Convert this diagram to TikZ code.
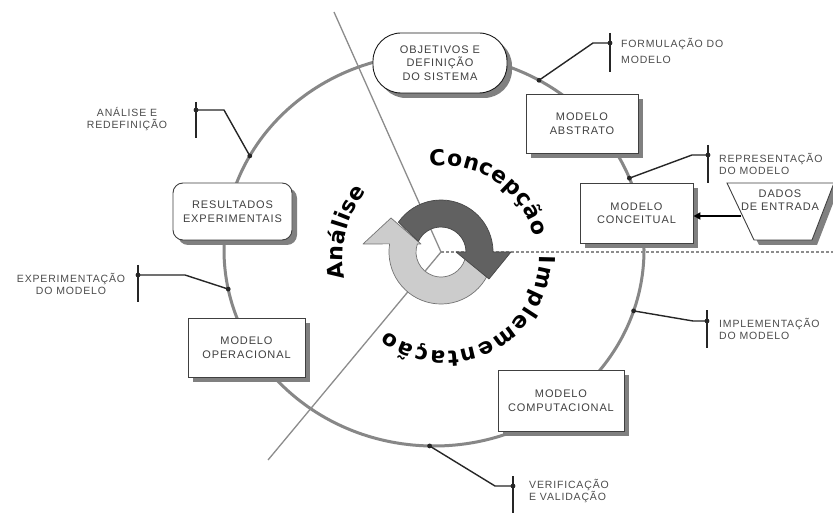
\documentclass[tikz,border=0pt]{standalone}
\usepackage{fontspec}
\setmainfont{Liberation Sans}
\newfontfamily\mbfam{Liberation Sans}[LetterSpace=8]
\newfontfamily\cycfam{DejaVu Sans}
\usetikzlibrary{shadows,calc,arrows.meta,decorations.text}

\newcommand\mbfont{\mbfam\fontsize{11}{13.5}\selectfont}
\newcommand\lblfont{\mbfam\fontsize{10.5}{12}\selectfont}
\newcommand\cycfont{\cycfam\bfseries\fontsize{22}{22}\selectfont}

\tikzset{
  ringline/.style={draw=black!47, line width=3pt},
  axisline/.style={draw=black!45, line width=1.3pt},
  axisdash/.style={draw=black!45, line width=1.5pt, dash pattern=on 3pt off 2pt},
  conn/.style={draw=black!85, line width=1.4pt, line join=round},
  tickline/.style={draw=black!85, line width=1.2pt},
  dotfill/.style={fill=black!85},
  shadowed/.style={drop shadow={shadow xshift=5pt, shadow yshift=-5pt, fill=black!50, opacity=1}},
  boxline/.style={draw=black!75, line width=0.9pt, fill=white},
  modelbox/.style={boxline, shadowed, rectangle, align=center, font=\mbfont, text=black!75, inner sep=0pt},
  pillbox/.style={modelbox, draw=black!90, rounded corners=28pt},
  lbl/.style={font=\lblfont, text=black!70, inner sep=0pt},
  feed/.style={draw=black, line width=2.4pt, -{Triangle[length=7pt,width=7pt]}},
  darkarrow/.style={fill=black!62, draw=black!72, line width=0.7pt, line join=round},
  lightarrow/.style={fill=black!20, draw=black!55, line width=0.7pt, line join=round},
  cyctext/.style={decorate, decoration={text along path, text align={fit to path}, text={|\cycfont|#1}}}
}

\begin{document}
\begin{tikzpicture}[x=1pt,y=1pt]
\useasboundingbox (0,0) rectangle (833,-513);
\fill[white] (0,0) rectangle (833,-513);

% the modelling cycle
\coordinate (ec) at (434,-250);
\draw[ringline] (ec) ellipse[x radius=210, y radius=196];

% phase dividers radiating from the centre
\coordinate (ctr) at (441,-252);
\coordinate (axtop) at (334,-12);
\coordinate (axbot) at (268,-460);
\coordinate (axright) at (833,-252);
\draw[axisline] (ctr) -- (axtop);
\draw[axisline] (ctr) -- (axbot);
\draw[axisdash] (ctr) -- (axright);

% circular arrows in the middle
\begin{scope}[shift={(ctr)}]
  \path[lightarrow] (-10:52) arc[start angle=-10, end angle=-189, radius=52]
     -- (-78,8) -- (-50,34) -- (-20,8) -- (161.3:25)
     arc[start angle=161.3, end angle=350, radius=25] -- cycle;
  \path[darkarrow] (145:52) arc[start angle=145, end angle=0, radius=52]
     -- (70,0) -- (48,-27) -- (15,0) -- (25,0)
     arc[start angle=0, end angle=155, radius=25] -- cycle;
\end{scope}

% phase names around the arrows
\coordinate (tc) at (445,-257);
\path[shift={(tc)}, cyctext={Concepção}] (99.5:91) arc[start angle=99.5, end angle=13, radius=91];
\path[shift={(tc)}, cyctext={Implementação}] (1:94) arc[start angle=1, end angle=-128, radius=94];
\path[shift={(tc)}, cyctext={Análise}] (192:102) arc[start angle=192, end angle=140, radius=102];

% stages of the cycle
\node[pillbox, minimum width=134pt, minimum height=60pt] (obj) at (440,-63) {OBJETIVOS E\\DEFINIÇÃO\\DO SISTEMA};
\node[modelbox, minimum width=112pt, minimum height=59pt] (abs) at (582,-123.5) {MODELO\\ABSTRATO};
\node[modelbox, minimum width=113pt, minimum height=60pt] (conc) at (636.5,-213) {MODELO\\CONCEITUAL};
\node[modelbox, rounded corners=10pt, minimum width=119pt, minimum height=57pt] (res) at (232.5,-211.5) {RESULTADOS\\EXPERIMENTAIS};
\node[modelbox, minimum width=117pt, minimum height=59pt] (oper) at (246.5,-347.5) {MODELO\\OPERACIONAL};
\node[modelbox, minimum width=126pt, minimum height=61pt] (comp) at (561,-400.5) {MODELO\\COMPUTACIONAL};

% input data
\draw[boxline, shadowed] (727,-183) -- (834,-183) -- (812,-240) -- (754,-240) -- cycle;
\node[font=\mbfont, text=black!75, align=center, inner sep=0pt] (dados) at (780,-200) {DADOS\\DE ENTRADA};
\coordinate (dadosin) at (741,-216);
\draw[feed] (dadosin) -- (conc.east |- dadosin);

% activity labels
\coordinate (fdot) at ($(ec)+(60:210 and 196)$);
\coordinate (fbend) at (593,-43);
\coordinate (fjoin) at (610,-43);
\draw[conn] (fdot) -- (fbend) -- (fjoin);
\draw[tickline] ($(fjoin)+(0,10)$) -- ($(fjoin)+(0,-29)$);
\fill[dotfill] (fdot) circle[radius=2.4];
\fill[dotfill] (fjoin) circle[radius=2.4];
\node[lbl, anchor=west, align=left] (flbl) at (621,-51) {FORMULAÇÃO DO\\[4pt]MODELO};

\coordinate (rdot) at ($(ec)+(21.5:210 and 196)$);
\coordinate (rbend) at (692,-155);
\coordinate (rjoin) at (708,-155);
\draw[conn] (rdot) -- (rbend) -- (rjoin);
\draw[tickline] ($(rjoin)+(0,10)$) -- ($(rjoin)+(0,-28)$);
\fill[dotfill] (rdot) circle[radius=2.4];
\fill[dotfill] (rjoin) circle[radius=2.4];
\node[lbl, anchor=west, align=left] (rlbl) at (719,-164) {REPRESENTAÇÃO\\DO MODELO};

\coordinate (idot) at ($(ec)+(-18.1:210 and 196)$);
\coordinate (ibend) at (693,-321);
\coordinate (ijoin) at (707,-321);
\draw[conn] (idot) -- (ibend) -- (ijoin);
\draw[tickline] ($(ijoin)+(0,11)$) -- ($(ijoin)+(0,-27)$);
\fill[dotfill] (idot) circle[radius=2.4];
\fill[dotfill] (ijoin) circle[radius=2.4];
\node[lbl, anchor=west, align=left] (ilbl) at (719,-329) {IMPLEMENTAÇÃO\\DO MODELO};

\coordinate (vdot) at ($(ec)+(-91.2:210 and 196)$);
\coordinate (vbend) at (495,-486);
\coordinate (vjoin) at (513,-486);
\draw[conn] (vdot) -- (vbend) -- (vjoin);
\draw[tickline] ($(vjoin)+(0,10)$) -- ($(vjoin)+(0,-30)$);
\fill[dotfill] (vdot) circle[radius=2.4];
\fill[dotfill] (vjoin) circle[radius=2.4];
\node[lbl, anchor=west, align=left] (vlbl) at (529,-491.5) {VERIFICAÇÃO\\E VALIDAÇÃO};

\coordinate (xdot) at ($(ec)+(191.5:210 and 196)$);
\coordinate (xbend) at (185,-275);
\coordinate (xjoin) at (138,-275);
\draw[conn] (xdot) -- (xbend) -- (xjoin);
\draw[tickline] ($(xjoin)+(0,10)$) -- ($(xjoin)+(0,-27)$);
\fill[dotfill] (xdot) circle[radius=2.4];
\fill[dotfill] (xjoin) circle[radius=2.4];
\node[lbl, align=center] (xlbl) at (71,-284) {EXPERIMENTAÇÃO\\DO MODELO};

\coordinate (adot) at ($(ec)+(151.3:210 and 196)$);
\coordinate (abend) at (224,-110);
\coordinate (ajoin) at (196,-110);
\draw[conn] (adot) -- (abend) -- (ajoin);
\draw[tickline] ($(ajoin)+(0,8)$) -- ($(ajoin)+(0,-28)$);
\fill[dotfill] (adot) circle[radius=2.4];
\fill[dotfill] (ajoin) circle[radius=2.4];
\node[lbl, align=center] (albl) at (127,-119) {ANÁLISE E\\REDEFINIÇÃO};
\end{tikzpicture}
\end{document}
